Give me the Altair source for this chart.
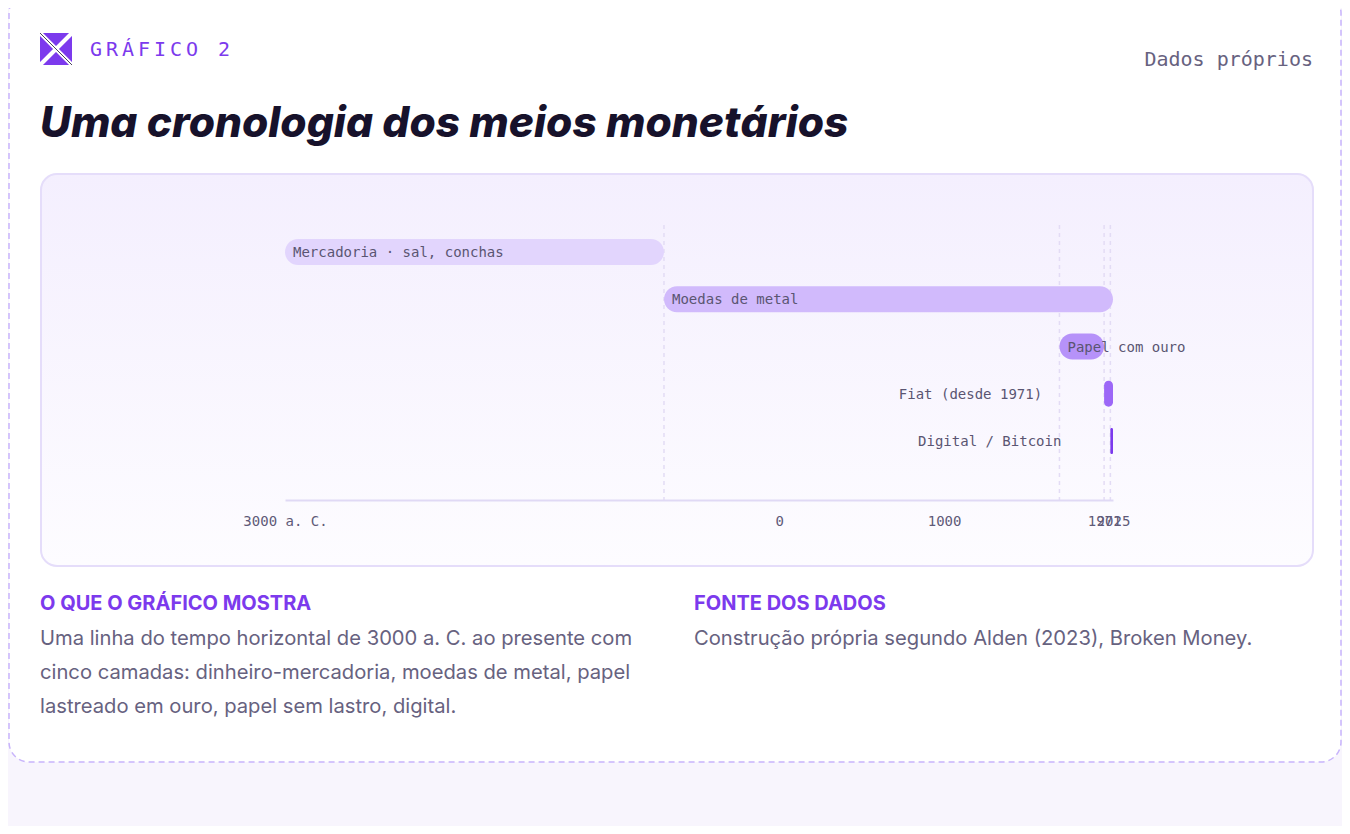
import altair as alt
import pandas as pd

# ---- data ----
names = ["Mercadoria · sal, conchas", "Moedas de metal", "Papel com ouro",
         "Fiat (desde 1971)", "Digital / Bitcoin"]
starts = [-3000, -700, 1700, 1971, 2009]
ends = [-700, 2025, 1971, 2025, 2025]
bar_colors = ["#e2d5fd", "#d1bafc", "#b692f9", "#9c67f7", "#7c3aed"]
tick_values = [-3000, 0, 1000, 1971, 2025]
guide_years = [-700, 1700, 1971, 2009]

kicker = "GRÁFICO 2"
source_tag = "Dados próprios"
title_text = "Uma cronologia dos meios monetários"
head1 = "O QUE O GRÁFICO MOSTRA"
body1 = ["Uma linha do tempo horizontal de 3000 a. C. ao presente com",
         "cinco camadas: dinheiro-mercadoria, moedas de metal, papel",
         "lastreado em ouro, papel sem lastro, digital."]
head2 = "FONTE DOS DADOS"
body2 = "Construção própria segundo Alden (2023), Broken Money."

df = pd.DataFrame({"name": names, "start": starts, "end": ends})
guides = pd.DataFrame({"year": guide_years})
one = pd.DataFrame({"k": [0]})

W, H = 828, 275
MONO = "DejaVu Sans Mono"
SANS = "Inter"
PURPLE = "#7c3aed"
GREY = "#67627f"

xs = alt.Scale(domain=[-3000, 2025], nice=False, zero=False)
x_axis = alt.Axis(values=tick_values, ticks=False, grid=False, title=None, zindex=2,
                  domainColor="#e0d9f5", domainWidth=2,
                  labelFont=MONO, labelFontSize=14, labelColor="#5f5a78",
                  labelPadding=14, labelFlush=False, labelOverlap=False,
                  labelExpr="datum.value < 0 ? abs(datum.value) + ' a. C.' : datum.value + ''")
ys = alt.Scale(type="point", domain=names, range=[27, 216], padding=0)
Y = alt.Y("name:N", scale=ys, axis=None, sort=names)

def X(field):
    return alt.X(field, scale=xs, axis=x_axis, title=None)

# ---- decoration (card, panel, logo) ----
card = alt.Chart(one).mark_rect(
    fill="#ffffff", stroke="#c8b4fb", strokeDash=[6, 4], strokeWidth=1.5, cornerRadius=20
).encode(x=alt.value(-276), x2=alt.value(1056), y=alt.value(-232), y2=alt.value(537))

panel = alt.Chart(one).mark_rect(
    fill=alt.Gradient(gradient="linear",
                      stops=[alt.GradientStop(color="#f4effe", offset=0),
                             alt.GradientStop(color="#fdfcff", offset=1)],
                      x1=0, x2=0, y1=0, y2=1),
    stroke="#e5ddfa", strokeWidth=2, cornerRadius=16
).encode(x=alt.value(-244), x2=alt.value(1028), y=alt.value(-51), y2=alt.value(341))

logo_box = alt.Chart(one).mark_rect(fill=PURPLE).encode(
    x=alt.value(-245), x2=alt.value(-213), y=alt.value(-192), y2=alt.value(-160))
logo_a = alt.Chart(one).mark_rule(color="#ffffff", strokeWidth=4).encode(
    x=alt.value(-245), x2=alt.value(-213), y=alt.value(-192), y2=alt.value(-160))
logo_b = alt.Chart(one).mark_rule(color="#ffffff", strokeWidth=4).encode(
    x=alt.value(-213), x2=alt.value(-245), y=alt.value(-192), y2=alt.value(-160))
logo_c = alt.Chart(one).mark_rule(color="#1a1530", strokeWidth=0.8).encode(
    x=alt.value(-245), x2=alt.value(-213), y=alt.value(-192), y2=alt.value(-160))

def txt(s, x, y, **kw):
    return alt.Chart(one).mark_text(**kw).encode(
        x=alt.value(x), y=alt.value(y), text=alt.value(s))

# letter-spaced kicker: one glyph per text mark
kicker_layers = [
    txt(ch, -195 + i * 16, -169, font=MONO, fontSize=20, color=PURPLE,
        align="left", baseline="alphabetic")
    for i, ch in enumerate(kicker) if ch != " "
]
t_source = txt(source_tag, 1028, -159, font=MONO, fontSize=20, color=GREY,
               align="right", baseline="alphabetic")
t_title = txt(title_text, -245, -88, font=SANS, fontSize=42.5, fontWeight=800,
              fontStyle="italic", color="#17122b", align="left", baseline="alphabetic")
t_h1 = txt(head1, -245, 385, font=SANS, fontSize=20, fontWeight=700,
           color=PURPLE, align="left", baseline="alphabetic")
t_b1 = txt(body1, -245, 420, font=SANS, fontSize=20.2, color=GREY, lineHeight=34,
           align="left", baseline="alphabetic")
t_h2 = txt(head2, 409, 385, font=SANS, fontSize=20, fontWeight=700,
           color=PURPLE, align="left", baseline="alphabetic")
t_b2 = txt(body2, 409, 420, font=SANS, fontSize=20.2, color=GREY,
           align="left", baseline="alphabetic")

# ---- chart content ----
grid = alt.Chart(guides).mark_rule(strokeDash=[4, 4], color="#e3dcf5", strokeWidth=1.5).encode(
    x=X("year:Q"), y=alt.value(0), y2=alt.value(H))

bars = alt.Chart(df).mark_bar(size=26, cornerRadius=13).encode(
    x=X("start:Q"),
    x2="end:Q",
    y=Y,
    color=alt.Color("name:N", scale=alt.Scale(domain=names, range=bar_colors), legend=None),
)

lab_kw = dict(font=MONO, fontSize=14, color="#5a5572", baseline="middle", dy=1)
lab_in = alt.Chart(df).transform_filter(
    alt.FieldOneOfPredicate(field="name", oneOf=names[:3])
).mark_text(align="left", dx=8, **lab_kw).encode(
    x=X("start:Q"), y=Y, text="name:N")
lab_fiat = alt.Chart(df).transform_filter(
    alt.FieldEqualPredicate(field="name", equal=names[3])
).mark_text(align="right", dx=-62, **lab_kw).encode(
    x=X("start:Q"), y=Y, text="name:N")
lab_dig = alt.Chart(df).transform_filter(
    alt.FieldEqualPredicate(field="name", equal=names[4])
).mark_text(align="right", dx=-49, **lab_kw).encode(
    x=X("start:Q"), y=Y, text="name:N")

chart = alt.layer(
    card, panel, logo_box, logo_a, logo_b, logo_c,
    *kicker_layers, t_source, t_title, t_h1, t_b1, t_h2, t_b2,
    grid, bars, lab_in, lab_fiat, lab_dig,
).properties(
    width=W, height=H,
    padding={"left": 277, "top": 217, "right": 229, "bottom": 326},
    autosize=alt.AutoSizeParams(type="none"),
    background="#f8f5fd",
).configure_view(stroke=None)

chart.save("out.html", embed_options={"renderer": "svg", "actions": False})
